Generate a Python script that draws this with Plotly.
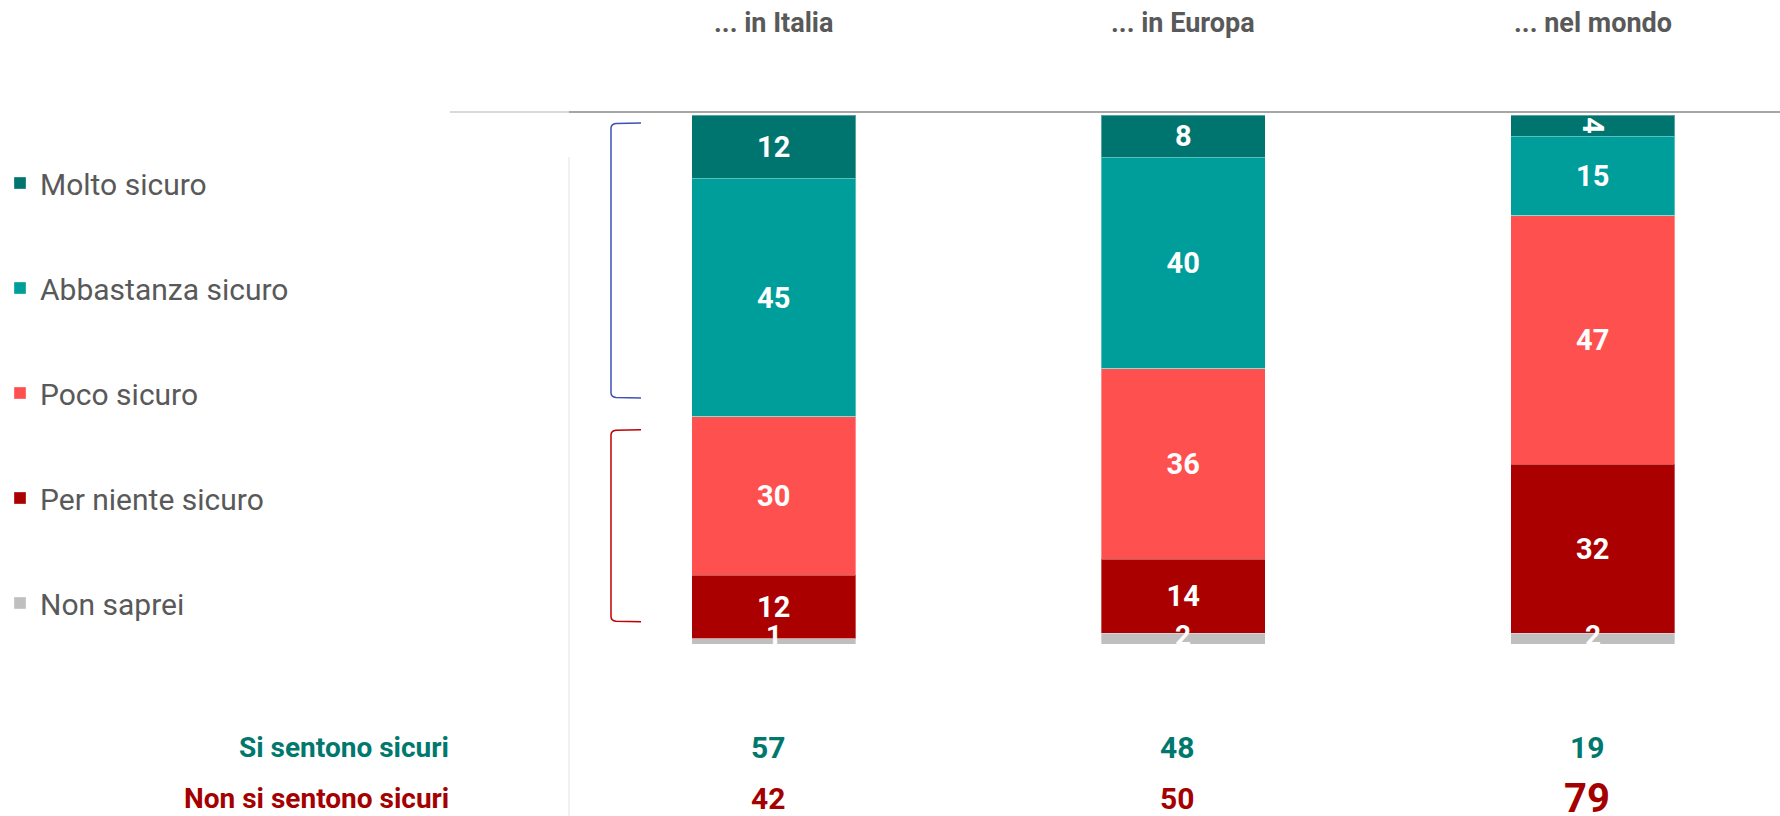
import plotly.graph_objects as go

# data
regions = ['... in Italia', '... in Europa', '... nel mondo']
molto = [12, 8, 4]
abbastanza = [45, 40, 15]
poco = [30, 36, 47]
per_niente = [12, 14, 32]
non_saprei = [1, 2, 2]
sicuri = [57, 48, 19]
non_sicuri = [42, 50, 79]

series = [
    ('Molto sicuro', molto, '#00756F'),
    ('Abbastanza sicuro', abbastanza, '#009E9A'),
    ('Poco sicuro', poco, '#FF5050'),
    ('Per niente sicuro', per_niente, '#AA0000'),
    ('Non saprei', non_saprei, '#BFBFBF'),
]

FONT = 'Roboto, Arial'
GREY_TXT = '#595959'
TEAL_TXT = '#00786E'
RED_TXT = '#A50000'

W, H = 1780, 816
L, T, B = 569, 115, 172
plot_w = W - L
plot_h = H - T - B
step = 409.5

fig = go.Figure()

for name, vals, col in series:
    show_txt = name != 'Non saprei'
    fig.add_trace(go.Bar(
        x=regions, y=vals, name=name,
        marker=dict(color=col, line=dict(color='rgba(255,255,255,0.35)', width=1)),
        width=0.4,
        text=[str(v) for v in vals] if show_txt else None,
        textposition='inside', insidetextanchor='middle',
        constraintext='none',
        textfont=dict(family=FONT, size=29, color='white', weight='bold'),
        legendgroup=name,
        hoverinfo='skip',
    ))

# labels for the tiny "Non saprei" segments, sitting on the bar bottom
for r, v in zip(regions, non_saprei):
    fig.add_annotation(x=r, y=100, xref='x', yref='y', text='<b>%d</b>' % v,
                       showarrow=False, yanchor='middle', yshift=9,
                       font=dict(family=FONT, size=28, color='white'))

# header labels
for r in regions:
    fig.add_annotation(x=r, y=1, xref='x', yref='paper', text='<b>%s</b>' % r,
                       showarrow=False, yanchor='middle', yshift=T - 23,
                       font=dict(family=FONT, size=27, color=GREY_TXT))

# bottom summary rows
for r, s, n in zip(regions, sicuri, non_sicuri):
    fig.add_annotation(x=r, y=0, xref='x', yref='paper', text='<b>%d</b>' % s,
                       showarrow=False, yanchor='middle', yshift=-(747 - (H - B)),
                       xshift=-6, font=dict(family=FONT, size=30, color=TEAL_TXT))
    big = 40 if n == max(non_sicuri) else 30
    fig.add_annotation(x=r, y=0, xref='x', yref='paper', text='<b>%d</b>' % n,
                       showarrow=False, yanchor='middle', yshift=-(798 - (H - B)),
                       xshift=-6, font=dict(family=FONT, size=big, color=RED_TXT))

row_x = (451 - L) / plot_w
fig.add_annotation(x=row_x, y=0, xref='paper', yref='paper', text='<b>Si sentono sicuri</b>',
                   showarrow=False, xanchor='right', yanchor='middle', yshift=-(747 - (H - B)),
                   font=dict(family=FONT, size=28, color=TEAL_TXT))
fig.add_annotation(x=row_x, y=0, xref='paper', yref='paper', text='<b>Non si sentono sicuri</b>',
                   showarrow=False, xanchor='right', yanchor='middle', yshift=-(798 - (H - B)),
                   font=dict(family=FONT, size=28, color=RED_TXT))

# separator lines
top_px = 112
y_top = 1 + (T - top_px) / plot_h
fig.add_shape(type='line', xref='paper', yref='paper', x0=(450 - L) / plot_w, x1=0,
              y0=y_top, y1=y_top, line=dict(color='#D9D9D9', width=2))
fig.add_shape(type='line', xref='paper', yref='paper', x0=0, x1=1,
              y0=y_top, y1=y_top, line=dict(color='#A6A6A6', width=2))
fig.add_shape(type='line', xref='paper', yref='paper', x0=0, x1=0,
              y0=1 - (157 - T) / plot_h, y1=-B / plot_h, line=dict(color='#E3E3E3', width=1))

# brackets
def bracket(y0, y1, col):
    x0 = (611 - L) / plot_w
    x1 = (641 - L) / plot_w
    xc = (616 - L) / plot_w
    fig.add_shape(type='path', xref='paper', yref='y',
                  path='M %f %f L %f %f Q %f %f %f %f L %f %f Q %f %f %f %f L %f %f' % (
                      x1, y0, xc, y0 + 0.1, x0, y0 + 0.2, x0, y0 + 1.0,
                      x0, y1 - 1.0, x0, y1 - 0.2, xc, y1 - 0.1, x1, y1),
                  line=dict(color=col, width=1.5))

bracket(1.5, 53.5, '#3F51B5')
bracket(59.5, 95.8, '#C00000')

fig.update_layout(
    width=W, height=H,
    barmode='stack',
    plot_bgcolor='white', paper_bgcolor='white',
    margin=dict(l=L, r=0, t=T, b=B, pad=0),
    xaxis=dict(range=[-0.5, -0.5 + plot_w / step], showticklabels=False,
               showgrid=False, zeroline=False, showline=False, fixedrange=True),
    yaxis=dict(range=[100, 0], showticklabels=False, showgrid=False,
               zeroline=False, showline=False, fixedrange=True),
    showlegend=True,
    legend=dict(x=(0 - L) / plot_w, xanchor='left', y=1 - (157 - T) / plot_h, yanchor='top',
                traceorder='grouped', tracegroupgap=63,
                font=dict(family=FONT, size=30, color=GREY_TXT),
                bgcolor='rgba(0,0,0,0)', itemclick=False, itemdoubleclick=False),
    font=dict(family=FONT),
)

fig.write_html("out.html", config={'displayModeBar': False},
               post_script="document.body.style.margin='0px';")
